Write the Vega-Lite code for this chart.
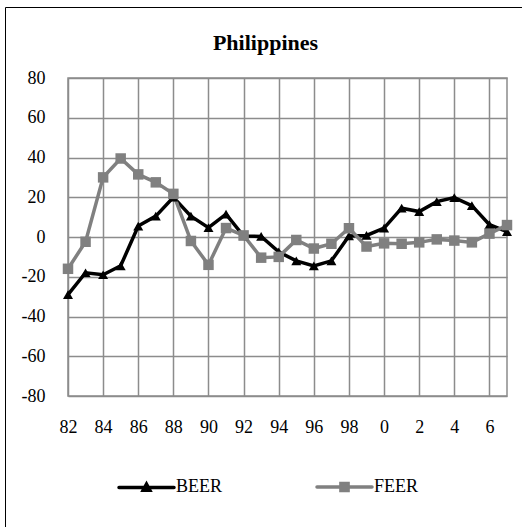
{
  "$schema": "https://vega.github.io/schema/vega-lite/v6.json",
  "autosize": {"type": "none"},
  "width": 439,
  "height": 318,
  "padding": {"left": 68, "top": 78, "right": 15, "bottom": 131},
  "background": "white",
  "title": {
    "text": "Philippines",
    "anchor": "middle",
    "frame": "group",
    "dx": -22,
    "offset": -70,
    "baseline": "bottom",
    "font": "Liberation Serif",
    "fontSize": 22,
    "fontWeight": "bold",
    "color": "black"
  },
  "config": {
    "view": {"stroke": "#8c8c8c", "strokeWidth": 1.5},
    "axis": {
      "labelFont": "Liberation Serif",
      "labelFontSize": 18,
      "labelColor": "black",
      "labelOverlap": false,
      "labelFlush": false,
      "gridColor": "#8c8c8c",
      "gridWidth": 1.5,
      "gridOpacity": 1,
      "domain": false,
      "ticks": false,
      "title": null
    }
  },
  "data": {
    "values": [
      {"year": 1982, "series": "BEER", "value": -29},
      {"year": 1983, "series": "BEER", "value": -18},
      {"year": 1984, "series": "BEER", "value": -19},
      {"year": 1985, "series": "BEER", "value": -14.5},
      {"year": 1986, "series": "BEER", "value": 5.5},
      {"year": 1987, "series": "BEER", "value": 10.5},
      {"year": 1988, "series": "BEER", "value": 20},
      {"year": 1989, "series": "BEER", "value": 10.5},
      {"year": 1990, "series": "BEER", "value": 4.7},
      {"year": 1991, "series": "BEER", "value": 11.5},
      {"year": 1992, "series": "BEER", "value": 0.5},
      {"year": 1993, "series": "BEER", "value": 0.3},
      {"year": 1994, "series": "BEER", "value": -7.5},
      {"year": 1995, "series": "BEER", "value": -12},
      {"year": 1996, "series": "BEER", "value": -14.5},
      {"year": 1997, "series": "BEER", "value": -12},
      {"year": 1998, "series": "BEER", "value": 0.5},
      {"year": 1999, "series": "BEER", "value": 0.8},
      {"year": 2000, "series": "BEER", "value": 4.5},
      {"year": 2001, "series": "BEER", "value": 14.5},
      {"year": 2002, "series": "BEER", "value": 12.8},
      {"year": 2003, "series": "BEER", "value": 17.8},
      {"year": 2004, "series": "BEER", "value": 19.8},
      {"year": 2005, "series": "BEER", "value": 15.8},
      {"year": 2006, "series": "BEER", "value": 6.2},
      {"year": 2007, "series": "BEER", "value": 2.7},
      {"year": 1982, "series": "FEER", "value": -16},
      {"year": 1983, "series": "FEER", "value": -2.4},
      {"year": 1984, "series": "FEER", "value": 30},
      {"year": 1985, "series": "FEER", "value": 39.5},
      {"year": 1986, "series": "FEER", "value": 31.5},
      {"year": 1987, "series": "FEER", "value": 27.5},
      {"year": 1988, "series": "FEER", "value": 21.7},
      {"year": 1989, "series": "FEER", "value": -2},
      {"year": 1990, "series": "FEER", "value": -14},
      {"year": 1991, "series": "FEER", "value": 4.5},
      {"year": 1992, "series": "FEER", "value": 0.8},
      {"year": 1993, "series": "FEER", "value": -10.4},
      {"year": 1994, "series": "FEER", "value": -10},
      {"year": 1995, "series": "FEER", "value": -1.5},
      {"year": 1996, "series": "FEER", "value": -5.8},
      {"year": 1997, "series": "FEER", "value": -3.4},
      {"year": 1998, "series": "FEER", "value": 4.4},
      {"year": 1999, "series": "FEER", "value": -4.8},
      {"year": 2000, "series": "FEER", "value": -3.2},
      {"year": 2001, "series": "FEER", "value": -3.4},
      {"year": 2002, "series": "FEER", "value": -2.7},
      {"year": 2003, "series": "FEER", "value": -1.2},
      {"year": 2004, "series": "FEER", "value": -1.8},
      {"year": 2005, "series": "FEER", "value": -2.7},
      {"year": 2006, "series": "FEER", "value": 1.7},
      {"year": 2007, "series": "FEER", "value": 6}
    ]
  },
  "encoding": {
    "x": {
      "field": "year",
      "type": "quantitative",
      "scale": {"domain": [1982, 2007], "nice": false, "zero": false},
      "axis": {
        "values": [1982, 1984, 1986, 1988, 1990, 1992, 1994, 1996, 1998, 2000, 2002, 2004, 2006],
        "labelExpr": "'' + (datum.value % 100)",
        "labelPadding": 22,
        "labelOverlap": false,
        "grid": true
      }
    },
    "y": {
      "field": "value",
      "type": "quantitative",
      "scale": {"domain": [-80, 80], "nice": false},
      "axis": {
        "values": [-80, -60, -40, -20, 0, 20, 40, 60, 80],
        "labelExpr": "'' + datum.value",
        "labelPadding": 23,
        "labelOverlap": false,
        "grid": true
      }
    }
  },
  "layer": [
    {
      "data": {"values": [{"frame": 1}]},
      "mark": {"type": "rect", "fill": null, "stroke": "black", "strokeWidth": 1, "clip": false},
      "encoding": {
        "x": {"value": -62.5},
        "x2": {"value": 470},
        "y": {"value": -70.5},
        "y2": {"value": 470}
      }
    },
    {
      "data": {"values": [{"zero": 0}]},
      "mark": {"type": "rule", "color": "black", "strokeWidth": 1.2},
      "encoding": {
        "x": {"datum": 1982, "type": "quantitative"},
        "x2": {"datum": 2007},
        "y": {"datum": 0, "type": "quantitative"}
      }
    },
    {
      "mark": {"type": "line", "strokeWidth": 3.5, "strokeJoin": "miter"},
      "encoding": {
        "color": {
          "field": "series",
          "type": "nominal",
          "scale": {"domain": ["BEER", "FEER"], "range": ["#000000", "#808080"]},
          "legend": {
            "orient": "none",
            "legendX": 49,
            "legendY": 379,
            "direction": "horizontal",
            "title": null,
            "symbolSize": 3025,
            "labelFont": "Liberation Serif",
            "labelFontSize": 18,
            "labelColor": "black",
            "labelOffset": 0,
            "columnPadding": 87,
            "padding": 0,
            "encode": {
              "symbols": {
                "update": {
                  "shape": {"signal": "datum.value === 'BEER' ? 'M-1,0H1M-0.12,0.1L0,-0.12L0.12,0.1Z' : 'M-1,0H1M-0.13,-0.13H0.13V0.13H-0.13Z'"},
                  "fill": {"signal": "datum.value === 'BEER' ? '#000000' : '#808080'"},
                  "stroke": {"signal": "datum.value === 'BEER' ? '#000000' : '#808080'"},
                  "strokeWidth": {"value": 3.5},
                  "strokeCap": {"value": "round"},
                  "opacity": {"value": 1}
                }
              }
            }
          }
        }
      }
    },
    {
      "transform": [{"filter": "datum.series === 'BEER'"}],
      "mark": {"type": "point", "shape": "triangle-up", "filled": true, "opacity": 1, "size": 100},
      "encoding": {
        "color": {"field": "series", "type": "nominal"}
      }
    },
    {
      "transform": [{"filter": "datum.series === 'FEER'"}],
      "mark": {"type": "point", "shape": "square", "filled": true, "opacity": 1, "size": 110},
      "encoding": {
        "color": {"field": "series", "type": "nominal"}
      }
    }
  ]
}
